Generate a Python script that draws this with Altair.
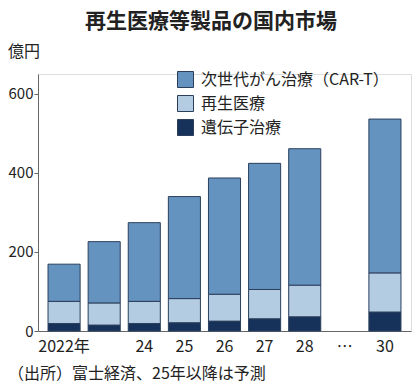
import altair as alt
import pandas as pd

years = ["2022", "2023", "2024", "2025", "2026", "2027", "2028", "…", "2030"]
tick_labels = ["2022年", "", "24", "25", "26", "27", "28", "…", "30"]
bar_years = ["2022", "2023", "2024", "2025", "2026", "2027", "2028", "2030"]
gene = [19, 15, 19, 21, 25, 31, 36, 48]
regen = [56, 56, 56, 61, 68, 74, 80, 99]
cart = [94, 155, 199, 258, 294, 319, 345, 389]
series = ["次世代がん治療（CAR-T）", "再生医療", "遺伝子治療"]
colors = ["#6593c0", "#b4cce2", "#17325a"]
title_text = "再生医療等製品の国内市場"
unit_text = "億円"
source_text = "（出所）富士経済、25年以降は予測"

FONT = "Noto Sans CJK JP"

rows = []
for i, y in enumerate(bar_years):
    rows.append({"year": y, "series": series[2], "value": gene[i], "ord": 0})
    rows.append({"year": y, "series": series[1], "value": regen[i], "ord": 1})
    rows.append({"year": y, "series": series[0], "value": cart[i], "ord": 2})
df = pd.DataFrame(rows)

label_expr = " : ".join(
    f"datum.value == '{k}' ? '{v}'" for k, v in zip(years, tick_labels)
) + " : ''"

W, H = 373, 257

bars = alt.Chart(df).mark_bar(stroke="#2b3f5c", strokeWidth=1).encode(
    x=alt.X("year:N", scale=alt.Scale(domain=years, paddingInner=0.2, paddingOuter=0.25),
            axis=alt.Axis(title=None, labelExpr=label_expr, ticks=False, labelPadding=7,
                          labelFontSize=16, labelFont=FONT, labelColor="#222",
                          domainColor="#666", labelAngle=0)),
    y=alt.Y("value:Q", stack="zero", scale=alt.Scale(domain=[0, 650], nice=False),
            axis=alt.Axis(title=None, values=[0, 200, 400, 600], tickSize=4, grid=False,
                          labelFontSize=15, labelFont=FONT, labelColor="#222",
                          domainColor="#666", tickColor="#666", labelPadding=1)),
    color=alt.Color("series:N", scale=alt.Scale(domain=series, range=colors),
                    legend=alt.Legend(title=None, orient="none", legendX=139, legendY=-3,
                                      symbolType="square", symbolSize=256,
                                      symbolStrokeColor="#2b3f5c", symbolStrokeWidth=1,
                                      symbolOpacity=1, labelLimit=400,
                                      labelFontSize=16, labelFont=FONT, labelColor="#222",
                                      rowPadding=3, labelOffset=7)),
    order=alt.Order("ord:Q"),
)

tdf = pd.DataFrame({"t": [title_text]})
title = alt.Chart(tdf).mark_text(fontSize=21, fontWeight="bold", font=FONT, color="#222",
                                 align="center", baseline="middle").encode(
    text="t:N", x=alt.value(173), y=alt.value(-52))

udf = pd.DataFrame({"t": [unit_text]})
unit = alt.Chart(udf).mark_text(fontSize=16, font=FONT, color="#222",
                                align="left", baseline="middle").encode(
    text="t:N", x=alt.value(-30), y=alt.value(-22))

sdf = pd.DataFrame({"t": [source_text]})
source = alt.Chart(sdf).mark_text(fontSize=16, font=FONT, color="#222",
                                  align="left", baseline="middle").encode(
    text="t:N", x=alt.value(-30), y=alt.value(300))

chart = alt.layer(bars, title, unit, source).properties(
    width=W, height=H,
    autosize=alt.AutoSizeParams(type="none"),
    padding={"left": 30, "top": 66, "right": 1, "bottom": 53},
).configure_view(stroke=None).configure(font=FONT)

chart.save("out.html", embed_options={"renderer": "svg", "actions": False})
